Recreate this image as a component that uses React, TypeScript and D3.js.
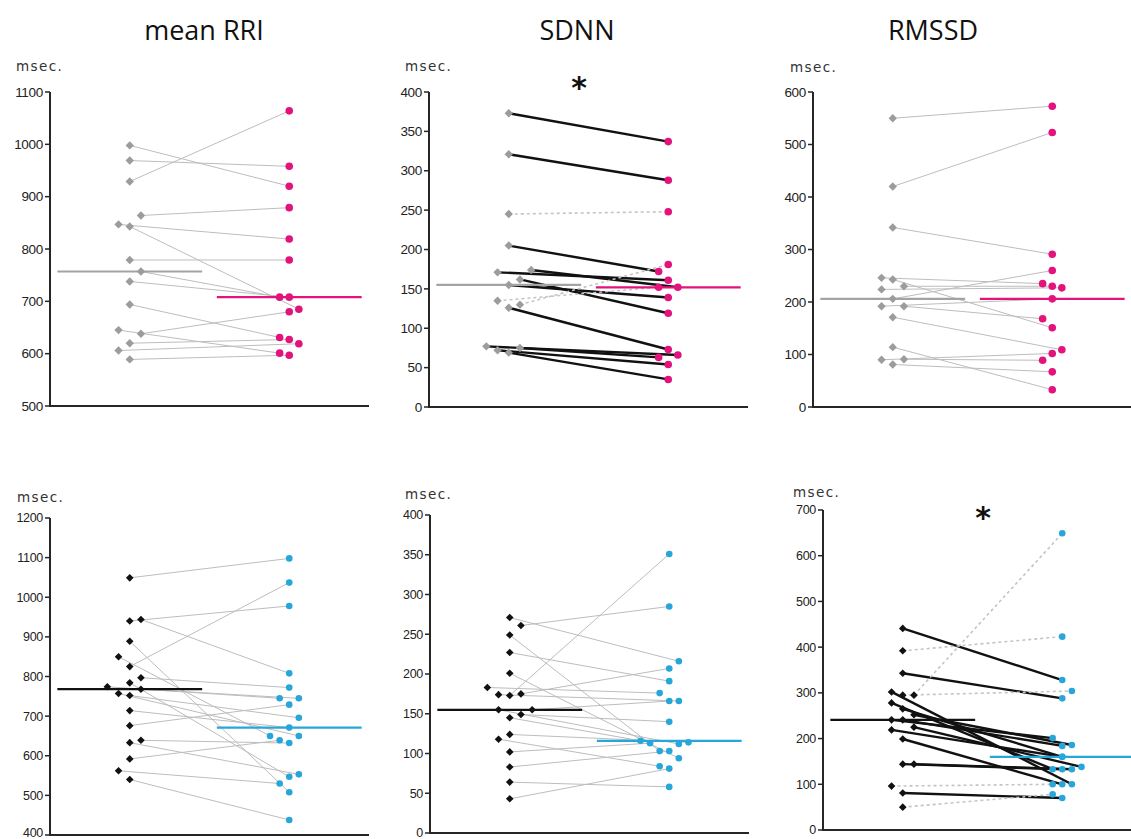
import React from "react";
import * as d3 from "d3";

// ---------------- DATA ----------------
const titles = ["mean RRI", "SDNN", "RMSSD"];
const unitLabel = "msec.";
const signifMark = "*";

// Top row: group A (grey diamonds = before, magenta circles = after)
const rriA_pre = [998, 969, 929, 864, 847, 843, 779, 757, 738, 694, 645, 638, 620, 606, 589];
const rriA_post = [920, 958, 1064, 879, 819, 685, 779, 708, 708, 631, 601, 680, 627, 619, 597];
const rriA_preRank = [0, 0, 0, 1, -1, 0, 0, 1, 0, 0, -1, 1, 0, -1, 0];
const rriA_postRank = [0, 0, 0, 0, 0, 1, 0, -1, 0, -1, -1, 0, 0, 1, 0];

const sdnnA_pre = [373, 321, 245, 205, 171, 174, 155, 162, 135, 130, 126, 77, 72, 69, 75];
const sdnnA_post = [337, 288, 248, 172, 161, 152, 139, 119, 152, 181, 73, 66, 54, 35, 63];
const sdnnA_preRank = [0, 0, 0, 0, -1, 2, 0, 1, -1, 1, 0, -2, -1, 0, 1];
const sdnnA_postRank = [0, 0, 0, -1, 0, 1, 0, 0, -1, 0, 0, 1, 0, 0, -1];

const rmssdA_pre = [550, 420, 342, 246, 243, 224, 230, 206, 192, 192, 171, 114, 90, 91, 81];
const rmssdA_post = [573, 523, 291, 235, 151, 227, 230, 260, 206, 168, 109, 33, 102, 89, 67];
const rmssdA_preRank = [0, 0, 0, -1, 0, -1, 1, 0, -1, 1, 0, 0, -1, 1, 0];
const rmssdA_postRank = [0, 0, 0, -1, 0, 1, 0, 0, 0, -1, 1, 0, 0, -1, 0];

// Bottom row: group B (black diamonds = before, cyan circles = after)
const rriB_pre = [1049, 940, 944, 889, 850, 825, 797, 784, 774, 768, 757, 752, 714, 676, 633, 639, 592, 562, 540];
const rriB_post = [1098, 978, 808, 508, 650, 1037, 772, 547, 745, 745, 650, 696, 671, 729, 553, 632, 639, 530, 438];
const rriB_preRank = [0, 0, 1, 0, -1, 0, 1, 0, -2, 1, -1, 0, 0, 0, 0, 1, 0, -1, 0];
const rriB_postRank = [0, 0, 0, 0, -2, 0, 0, 0, -1, 1, 1, 1, 0, 0, 1, 0, -1, -1, 0];

const sdnnB_pre = [271, 261, 249, 227, 201, 183, 174, 173, 175, 155, 155, 145, 149, 124, 118, 102, 83, 64, 43];
const sdnnB_post = [216, 285, 103, 191, 94, 176, 166, 351, 207, 112, 166, 116, 140, 114, 84, 113, 103, 58, 81];
const sdnnB_preRank = [0, 1, 0, 0, 0, -2, -1, 0, 1, -1, 2, 0, 1, 0, -1, 0, 0, 0, 0];
const sdnnB_postRank = [1, 0, -1, 0, 1, -1, 1, 0, 0, 1, 0, -3, 0, 2, -1, -2, 0, 0, 0];

const rmssdB_pre = [441, 392, 343, 302, 295, 295, 278, 265, 252, 241, 241, 225, 219, 199, 144, 144, 96, 81, 50];
const rmssdB_post = [328, 423, 288, 100, 649, 304, 133, 160, 186, 201, 184, 138, 160, 100, 133, 133, 100, 70, 78];
const rmssdB_preRank = [0, 0, 0, -1, 1, 0, -1, 0, 1, -1, 0, 1, -1, 0, 0, 1, -1, 0, 0];
const rmssdB_postRank = [0, 0, 0, 1, 0, 1, -1, 0, 1, -1, 0, 2, 0, 0, 0, 1, -1, 0, -1];

// axis ticks
const ticksRriA = [500, 600, 700, 800, 900, 1000, 1100];
const ticksSdnnA = [0, 50, 100, 150, 200, 250, 300, 350, 400];
const ticksRmssdA = [0, 100, 200, 300, 400, 500, 600];
const ticksRriB = [400, 500, 600, 700, 800, 900, 1000, 1100, 1200];
const ticksSdnnB = [0, 50, 100, 150, 200, 250, 300, 350, 400];
const ticksRmssdB = [0, 100, 200, 300, 400, 500, 600, 700];

// significant (paired test) panels
const signifA = [false, true, false];
const signifB = [false, false, true];

// ---------------- LAYOUT / STYLE ----------------
const W = 1131;
const H = 839;
const plotW = 319;

type Frame = {
  axisX: number;
  yBottom: number;
  yTop: number;
  unitX: number;
  unitY: number;
  tickFont: number;
  starY: number;
};

const framesTop: Frame[] = [
  { axisX: 50, yBottom: 406, yTop: 92, unitX: 16, unitY: 71, tickFont: 13.5, starY: 98 },
  { axisX: 429, yBottom: 407, yTop: 92, unitX: 405, unitY: 71, tickFont: 13.5, starY: 98 },
  { axisX: 813, yBottom: 407, yTop: 92, unitX: 790, unitY: 72, tickFont: 13.5, starY: 98 },
];
const framesBottom: Frame[] = [
  { axisX: 50, yBottom: 835, yTop: 518, unitX: 17, unitY: 502, tickFont: 12.5, starY: 528 },
  { axisX: 430, yBottom: 833, yTop: 515, unitX: 405, unitY: 499, tickFont: 12.5, starY: 528 },
  { axisX: 823, yBottom: 830, yTop: 510, unitX: 793, unitY: 497, tickFont: 12.5, starY: 528 },
];

const titleX = [204, 577, 933];
const starX = [0, 579, 983];

type Group = {
  preFill: string;
  postFill: string;
  preMedian: string;
  postMedian: string;
  diamond: number;
  radius: number;
};

const groupA: Group = {
  preFill: "#9c9c9c",
  postFill: "#e2137c",
  preMedian: "#a3a3a3",
  postMedian: "#e2137c",
  diamond: 8.4,
  radius: 3.8,
};
const groupB: Group = {
  preFill: "#111111",
  postFill: "#27a6da",
  preMedian: "#111111",
  postMedian: "#27a6da",
  diamond: 7.6,
  radius: 3.3,
};

type PanelData = {
  pre: number[];
  post: number[];
  preRank: number[];
  postRank: number[];
  ticks: number[];
  signif: boolean;
};

const topPanels: PanelData[] = [
  { pre: rriA_pre, post: rriA_post, preRank: rriA_preRank, postRank: rriA_postRank, ticks: ticksRriA, signif: signifA[0] },
  { pre: sdnnA_pre, post: sdnnA_post, preRank: sdnnA_preRank, postRank: sdnnA_postRank, ticks: ticksSdnnA, signif: signifA[1] },
  { pre: rmssdA_pre, post: rmssdA_post, preRank: rmssdA_preRank, postRank: rmssdA_postRank, ticks: ticksRmssdA, signif: signifA[2] },
];
const bottomPanels: PanelData[] = [
  { pre: rriB_pre, post: rriB_post, preRank: rriB_preRank, postRank: rriB_postRank, ticks: ticksRriB, signif: signifB[0] },
  { pre: sdnnB_pre, post: sdnnB_post, preRank: sdnnB_preRank, postRank: sdnnB_postRank, ticks: ticksSdnnB, signif: signifB[1] },
  { pre: rmssdB_pre, post: rmssdB_post, preRank: rmssdB_preRank, postRank: rmssdB_postRank, ticks: ticksRmssdB, signif: signifB[2] },
];

const axisColor = "#262626";
const tickTextColor = "#222";

function Panel({ d, f, g }: { d: PanelData; f: Frame; g: Group }) {
  const [lo, hi] = d3.extent(d.ticks) as [number, number];
  const y = d3.scaleLinear().domain([lo, hi]).range([f.yBottom, f.yTop]);
  const x = d3.scalePoint<string>().domain(["pre", "post"]).range([f.axisX, f.axisX + plotW]).padding(0.5);
  const preSlot = d3.scaleLinear().domain([0, 1]).range([0, 11.2]);
  const postSlot = d3.scaleLinear().domain([0, 1]).range([0, 9.6]);
  const px = (r: number) => (x("pre") as number) + preSlot(r);
  const qx = (r: number) => (x("post") as number) + postSlot(r);

  const medPre = d3.median(d.pre) as number;
  const medPost = d3.median(d.post) as number;
  const halfMed = plotW * 0.227;

  const diamondPath = d3.symbol(d3.symbolSquare, (g.diamond * g.diamond) / 2)() as string;

  return (
    <g>
      {/* connecting lines */}
      {d.pre.map((v, i) => {
        const w = d.post[i];
        let stroke = "#bdbdbd";
        let sw = 1;
        let dash: string | undefined = undefined;
        if (d.signif) {
          if (w < v) {
            stroke = "#111";
            sw = 2.4;
          } else {
            stroke = "#c4c4c4";
            sw = 1.6;
            dash = "3,3";
          }
        }
        return (
          <line
            key={"l" + i}
            x1={px(d.preRank[i])}
            y1={y(v)}
            x2={qx(d.postRank[i])}
            y2={y(w)}
            stroke={stroke}
            strokeWidth={sw}
            strokeDasharray={dash}
          />
        );
      })}
      {/* median lines */}
      <line
        x1={(x("pre") as number) - halfMed}
        x2={(x("pre") as number) + halfMed}
        y1={y(medPre)}
        y2={y(medPre)}
        stroke={g.preMedian}
        strokeWidth={2.2}
      />
      <line
        x1={(x("post") as number) - halfMed}
        x2={(x("post") as number) + halfMed}
        y1={y(medPost)}
        y2={y(medPost)}
        stroke={g.postMedian}
        strokeWidth={2.2}
      />
      {/* markers */}
      {d.pre.map((v, i) => (
        <path
          key={"p" + i}
          d={diamondPath}
          transform={`translate(${px(d.preRank[i])},${y(v)}) rotate(45)`}
          fill={g.preFill}
        />
      ))}
      {d.post.map((w, i) => (
        <circle key={"c" + i} cx={qx(d.postRank[i])} cy={y(w)} r={g.radius} fill={g.postFill} />
      ))}
      {/* axes */}
      <line x1={f.axisX} x2={f.axisX} y1={f.yTop} y2={f.yBottom + 1} stroke={axisColor} strokeWidth={2} />
      <line x1={f.axisX - 1} x2={f.axisX + plotW} y1={f.yBottom} y2={f.yBottom} stroke={axisColor} strokeWidth={2} />
      {d.ticks.map((t) => (
        <g key={"t" + t}>
          <line x1={f.axisX - 5} x2={f.axisX} y1={y(t)} y2={y(t)} stroke={axisColor} strokeWidth={1.5} />
          <text
            x={f.axisX - 7}
            y={Math.min(y(t), H - 6)}
            dy="0.35em"
            textAnchor="end"
            fontFamily="Liberation Sans, Arial, sans-serif"
            fontSize={f.tickFont}
            fill={tickTextColor}
            letterSpacing={-0.3}
          >
            {t}
          </text>
        </g>
      ))}
      <text
        x={f.unitX}
        y={f.unitY}
        fontFamily="DejaVu Sans, sans-serif"
        fontSize={13.5}
        letterSpacing={1.4}
        fill="#333"
      >
        {unitLabel}
      </text>
    </g>
  );
}

export default function App() {
  return (
    <svg
      width={W}
      height={H}
      viewBox={`0 0 ${W} ${H}`}
      style={{ position: "absolute", left: 0, top: 0, background: "#fff" }}
    >
      <rect x={0} y={0} width={W} height={H} fill="#fff" />
      {titles.map((t, i) => (
        <text
          key={t}
          x={titleX[i]}
          y={40}
          textAnchor="middle"
          fontFamily="Open Sans, sans-serif"
          fontSize={27}
          fill="#111"
        >
          {t}
        </text>
      ))}
      {topPanels.map((d, i) => (
        <Panel key={"top" + i} d={d} f={framesTop[i]} g={groupA} />
      ))}
      {bottomPanels.map((d, i) => (
        <Panel key={"bot" + i} d={d} f={framesBottom[i]} g={groupB} />
      ))}
      {topPanels.map((d, i) =>
        d.signif ? (
          <text key={"sa" + i} x={starX[i]} y={framesTop[i].starY} textAnchor="middle" fontFamily="DejaVu Sans, sans-serif" fontWeight="bold" fontSize={30} fill="#111">
            {signifMark}
          </text>
        ) : null
      )}
      {bottomPanels.map((d, i) =>
        d.signif ? (
          <text key={"sb" + i} x={starX[i]} y={framesBottom[i].starY} textAnchor="middle" fontFamily="DejaVu Sans, sans-serif" fontWeight="bold" fontSize={30} fill="#111">
            {signifMark}
          </text>
        ) : null
      )}
    </svg>
  );
}
